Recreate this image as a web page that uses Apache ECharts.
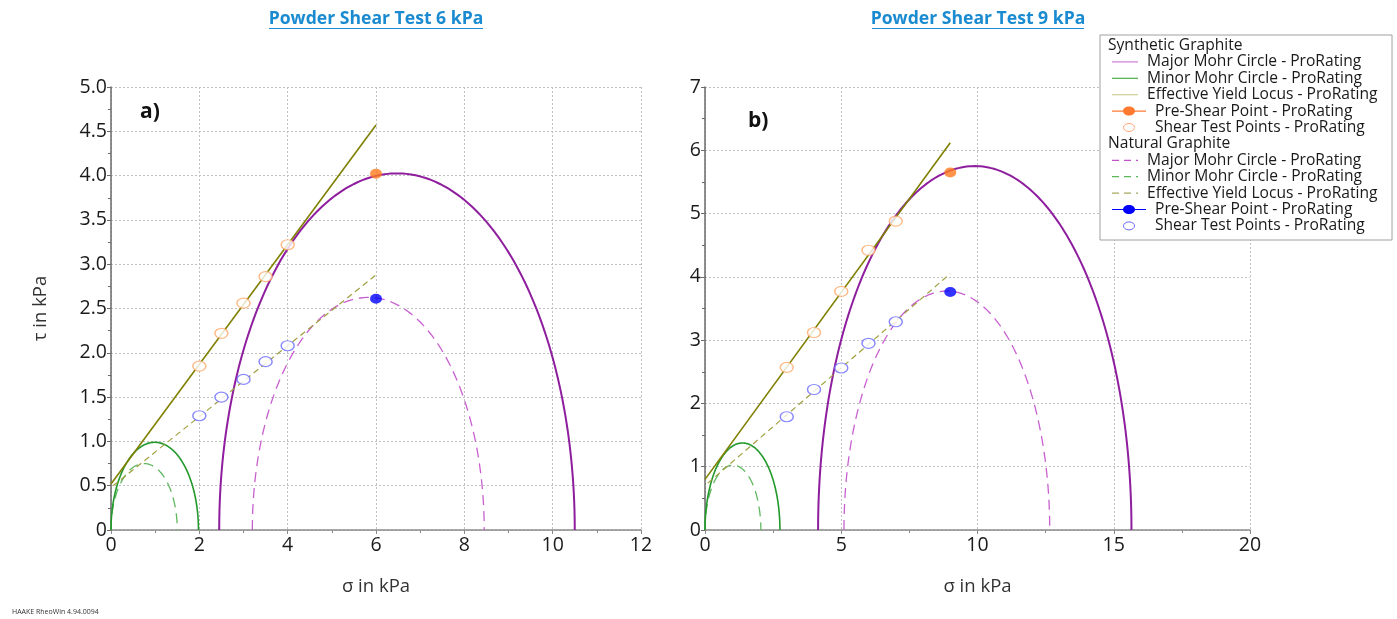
<!DOCTYPE html>
<html>
<head>
<meta charset="utf-8">
<script src="https://cdn.jsdelivr.net/npm/echarts@6/dist/echarts.min.js"></script>
<style>html,body{margin:0;padding:0;background:#fff}#c{width:1397px;height:619px}</style>
</head>
<body>
<div id="c"></div>
<script>
// ---- Data (σ, τ in kPa) ----
// Mohr circles given as [σ_min, σ_max]
const syn6Major = [2.45, 10.5];
const syn6Minor = [0, 1.98];
const syn6Locus = [[0, 0.52], [6, 4.57]];
const syn6Pre = [[6, 4.02]];
const syn6Tests = [[2, 1.85], [2.5, 2.22], [3, 2.56], [3.5, 2.86], [4, 3.22]];
const nat6Major = [3.2, 8.45];
const nat6Minor = [0, 1.5];
const nat6Locus = [[0.05, 0.5], [6, 2.88]];
const nat6Pre = [[6, 2.61]];
const nat6Tests = [[2, 1.29], [2.5, 1.50], [3, 1.70], [3.5, 1.90], [4, 2.08]];

const syn9Major = [4.15, 15.65];
const syn9Minor = [0, 2.75];
const syn9Locus = [[0, 0.8], [9, 6.12]];
const syn9Pre = [[9, 5.65]];
const syn9Tests = [[3, 2.57], [4, 3.12], [5, 3.77], [6, 4.42], [7, 4.88]];
const nat9Major = [5.1, 12.65];
const nat9Minor = [0, 2.05];
const nat9Locus = [[0.1, 0.74], [9, 4.05]];
const nat9Pre = [[9, 3.76]];
const nat9Tests = [[3, 1.79], [4, 2.22], [5, 2.56], [6, 2.95], [7, 3.29]];

const titles = ['Powder Shear Test 6 kPa', 'Powder Shear Test 9 kPa'];
const panelLabels = ['a)', 'b)'];
const legendGroups = ['Synthetic Graphite', 'Natural Graphite'];
const legendItems = ['Major Mohr Circle - ProRating', 'Minor Mohr Circle - ProRating', 'Effective Yield Locus - ProRating', 'Pre-Shear Point - ProRating', 'Shear Test Points - ProRating'];

// ---- Styles ----
const C = {
  majorS: '#8e1e9e', majorN: '#c860cf',
  minorS: '#22992a', minorN: '#60b860',
  locusS: '#7f7f00', locusN: '#a0a040',
  preS: '#ff7a1e', testS: '#ffa868',
  preN: '#0000ff', testN: '#6a6aff'
};
const FONT = '"Open Sans", "Noto Sans", sans-serif';

function circleSeries(range, grid, color, width, dash) {
  return {
    type: 'custom', xAxisIndex: grid, yAxisIndex: grid, clip: false, silent: true,
    data: [range], encode: { x: [0, 1] },
    renderItem: function (params, api) {
      const a = api.value(0), b = api.value(1);
      const c = (a + b) / 2, r = (b - a) / 2;
      const pts = [];
      const N = 180;
      for (let i = 0; i <= N; i++) {
        const t = Math.PI * i / N;
        pts.push(api.coord([c - r * Math.cos(t), r * Math.sin(t)]));
      }
      return { type: 'polyline', shape: { points: pts }, style: { stroke: color, lineWidth: width, fill: null, lineDash: dash || null } };
    },
    z: 3
  };
}
function locusSeries(data, grid, color, width, dash) {
  return { type: 'line', xAxisIndex: grid, yAxisIndex: grid, data: data, showSymbol: false, symbol: 'none', silent: true,
    lineStyle: { color: color, width: width, type: dash ? dash : 'solid' }, z: 4 };
}
function pointsSeries(data, grid, color, hollow) {
  return { type: 'scatter', xAxisIndex: grid, yAxisIndex: grid, data: data, symbol: 'circle', symbolSize: hollow ? [13, 10] : [12, 10], silent: true,
    itemStyle: hollow ? { color: '#ffffff', borderColor: color, borderWidth: 1.3 } : { color: color }, z: 6 };
}

const axisLabelStyle = { color: '#1a1a1a', fontSize: 19.5, fontFamily: FONT };
function xAxisDef(grid, max, interval) {
  return {
    type: 'value', gridIndex: grid, min: 0, max: max, interval: interval,
    name: 'σ in kPa', nameLocation: 'middle', nameGap: 47,
    nameTextStyle: { color: '#333', fontSize: 18.5, fontFamily: FONT },
    axisLine: { show: true, onZero: false, lineStyle: { color: '#8a8a8a', width: 1.5 } },
    axisTick: { show: true, length: 4, lineStyle: { color: '#8a8a8a' } },
    minorTick: { show: true, splitNumber: 2, length: 3, lineStyle: { color: '#8a8a8a' } },
    axisLabel: Object.assign({ margin: 5 }, axisLabelStyle),
    splitLine: { show: true, lineStyle: { color: '#c0c0c0', type: [2, 2], width: 1 } }
  };
}
function yAxisDef(grid, max, interval, fmt, name) {
  return {
    type: 'value', gridIndex: grid, min: 0, max: max, interval: interval,
    name: name || '', nameLocation: 'middle', nameGap: 61, nameRotate: 90,
    nameTextStyle: { color: '#333', fontSize: 18.5, fontFamily: FONT },
    axisLine: { show: true, onZero: false, lineStyle: { color: '#6a6a6a', width: 1.5 } },
    axisTick: { show: true, length: 4, lineStyle: { color: '#6a6a6a' } },
    minorTick: { show: true, splitNumber: 2, length: 3, lineStyle: { color: '#6a6a6a' } },
    axisLabel: Object.assign({ margin: 4, formatter: fmt }, axisLabelStyle),
    splitLine: { show: true, lineStyle: { color: '#c0c0c0', type: [2, 2], width: 1 } }
  };
}

const series = [
  circleSeries(nat6Major, 0, C.majorN, 1.3, [10, 6]),
  circleSeries(nat6Minor, 0, C.minorN, 1.3, [10, 6]),
  locusSeries(nat6Locus, 0, C.locusN, 1.2, [6, 4]),
  circleSeries(syn6Major, 0, C.majorS, 2, null),
  circleSeries(syn6Minor, 0, C.minorS, 1.6, null),
  locusSeries(syn6Locus, 0, C.locusS, 1.6, null),
  pointsSeries(syn6Tests, 0, C.testS, true),
  pointsSeries(nat6Tests, 0, C.testN, true),
  pointsSeries(syn6Pre, 0, C.preS, false),
  pointsSeries(nat6Pre, 0, C.preN, false),

  circleSeries(nat9Major, 1, C.majorN, 1.3, [10, 6]),
  circleSeries(nat9Minor, 1, C.minorN, 1.3, [10, 6]),
  locusSeries(nat9Locus, 1, C.locusN, 1.2, [6, 4]),
  circleSeries(syn9Major, 1, C.majorS, 2, null),
  circleSeries(syn9Minor, 1, C.minorS, 1.6, null),
  locusSeries(syn9Locus, 1, C.locusS, 1.6, null),
  pointsSeries(syn9Tests, 1, C.testS, true),
  pointsSeries(nat9Tests, 1, C.testN, true),
  pointsSeries(syn9Pre, 1, C.preS, false),
  pointsSeries(nat9Pre, 1, C.preN, false)
];

// ---- Legend (drawn as graphic) ----
const LX = 1100, LY = 35, LW = 292, LH = 205, ROW = 16.4;
const LFONT = '15.6px ' + FONT;
const legendGraphics = [{ type: 'rect', shape: { x: LX, y: LY, width: LW, height: LH }, style: { fill: '#fff', stroke: '#a0a0a0', lineWidth: 1 }, z: 100 }];
const legendStyles = [
  [{ kind: 'line', color: '#d27ad9' }, { kind: 'line', color: '#44b044' }, { kind: 'line', color: '#cfcf98' }, { kind: 'pre', color: '#ff7a30' }, { kind: 'hollow', color: '#ffa878' }],
  [{ kind: 'line', color: '#c050cc', dash: [7, 5] }, { kind: 'line', color: '#5ab85a', dash: [7, 5] }, { kind: 'line', color: '#a8a860', dash: [7, 5] }, { kind: 'pre', color: '#0000ff' }, { kind: 'hollow', color: '#6a6aff' }]
];
let row = 0;
for (let g = 0; g < 2; g++) {
  const yy = LY + 10.5 + row * ROW;
  legendGraphics.push({ type: 'text', x: LX + 8, y: yy, style: { text: legendGroups[g], fill: '#1a1a1a', font: LFONT, textVerticalAlign: 'middle' }, z: 101 });
  row++;
  for (let i = 0; i < legendItems.length; i++) {
    const y = LY + 10.5 + row * ROW;
    const st = legendStyles[g][i];
    let tx = LX + 47;
    if (st.kind === 'line') {
      legendGraphics.push({ type: 'line', shape: { x1: LX + 12, y1: y, x2: LX + 38, y2: y }, style: { stroke: st.color, lineWidth: 1.2, lineDash: st.dash || null }, z: 101 });
    } else if (st.kind === 'pre') {
      legendGraphics.push({ type: 'line', shape: { x1: LX + 12, y1: y, x2: LX + 46, y2: y }, style: { stroke: st.color, lineWidth: 1.2 }, z: 101 });
      legendGraphics.push({ type: 'ellipse', shape: { cx: LX + 29, cy: y, rx: 6, ry: 4.5 }, style: { fill: st.color }, z: 102 });
      tx = LX + 55;
    } else {
      legendGraphics.push({ type: 'ellipse', shape: { cx: LX + 29, cy: y, rx: 5.5, ry: 4 }, style: { fill: '#fff', stroke: st.color, lineWidth: 1 }, z: 102 });
      tx = LX + 55;
    }
    legendGraphics.push({ type: 'text', x: tx, y: y, style: { text: legendItems[i], fill: '#1a1a1a', font: LFONT, textVerticalAlign: 'middle' }, z: 101 });
    row++;
  }
}

// Title underlines and panel labels
const extraGraphics = [
  { type: 'line', shape: { x1: 269, y1: 28.5, x2: 483, y2: 28.5 }, style: { stroke: '#1a8bd0', lineWidth: 1.2 } },
  { type: 'line', shape: { x1: 872, y1: 28.5, x2: 1084, y2: 28.5 }, style: { stroke: '#1a8bd0', lineWidth: 1.2 } },
  { type: 'text', x: 140, y: 112, style: { text: panelLabels[0], fill: '#111', font: 'bold 21px ' + FONT, textVerticalAlign: 'middle' }, z: 20 },
  { type: 'text', x: 748, y: 121, style: { text: panelLabels[1], fill: '#111', font: 'bold 21px ' + FONT, textVerticalAlign: 'middle' }, z: 20 },
  { type: 'text', x: 12, y: 612, style: { text: 'HAAKE RheoWin 4.94.0094', fill: '#333', font: '7px ' + FONT, textVerticalAlign: 'middle' } }
];

const chart = echarts.init(document.getElementById('c'), null, { renderer: 'canvas' });
chart.setOption({
  animation: false,
  backgroundColor: '#ffffff',
  title: [
    { text: titles[0], left: 371, top: 5, textAlign: 'center', textStyle: { color: '#1a8bd0', fontSize: 17.6, fontWeight: 'bold', fontFamily: FONT } },
    { text: titles[1], left: 973, top: 5, textAlign: 'center', textStyle: { color: '#1a8bd0', fontSize: 17.6, fontWeight: 'bold', fontFamily: FONT } }
  ],
  grid: [
    { left: 111, top: 87, width: 530, height: 443, containLabel: false },
    { left: 705, top: 87, width: 545, height: 443, containLabel: false }
  ],
  xAxis: [xAxisDef(0, 12, 2), xAxisDef(1, 20, 5)],
  yAxis: [
    yAxisDef(0, 5, 0.5, function (v) { return v === 0 ? '0' : v.toFixed(1); }, 'τ in kPa'),
    yAxisDef(1, 7, 1, function (v) { return String(v); }, '')
  ],
  series: series,
  graphic: legendGraphics.concat(extraGraphics)
});
</script>
</body>
</html>
